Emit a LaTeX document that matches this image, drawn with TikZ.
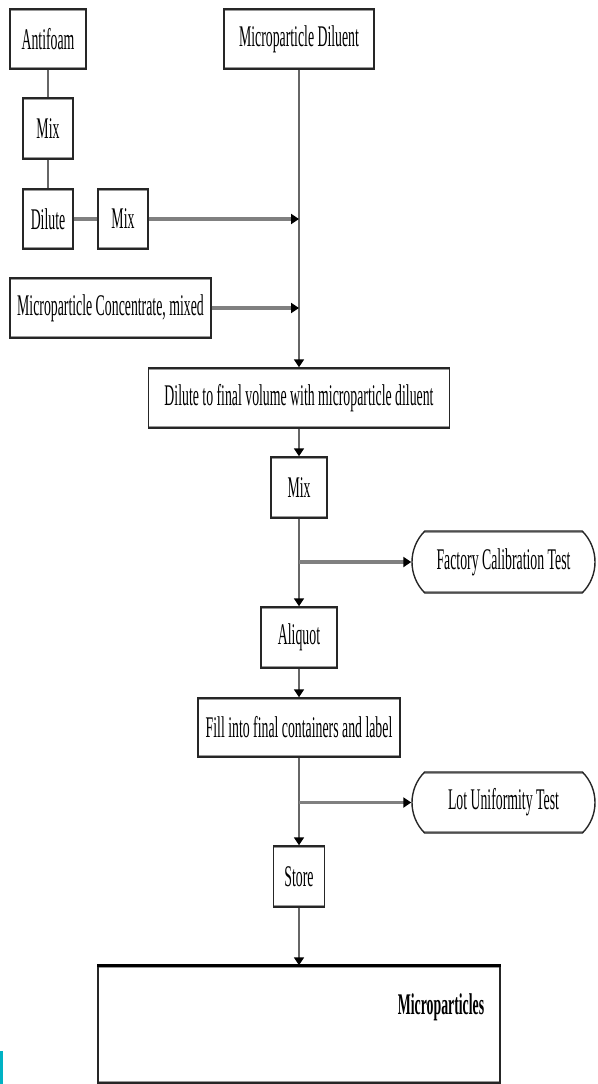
\documentclass[tikz,border=0pt]{standalone}
\usepackage{fontspec}
\setmainfont{Liberation Serif}[FakeStretch=0.46]
\usetikzlibrary{arrows.meta,shapes.misc}
\definecolor{barcyan}{RGB}{0,178,196}
\begin{document}
\begin{tikzpicture}[x=1pt,y=-1pt,
  every node/.style={font=\fontsize{30}{34}\selectfont},
  band/.style={path picture={\draw[black!40,line width=4pt]
      (path picture bounding box.north west) -- (path picture bounding box.north east)
      (path picture bounding box.south west) -- (path picture bounding box.south east);}},
  stepbox/.style={draw=black!85, line width=1.4pt, fill=white, inner sep=0pt, band},
  term/.style={rounded rectangle, rounded rectangle arc length=90, draw=black!85,
      line width=1.4pt, fill=white, inner sep=0pt, band},
  tip/.style={-{Triangle[length=8pt,width=10pt,color=black]}},
  trunk/.style={draw=black!60, line width=1.6pt},
  feed/.style={draw=black!50, line width=3.5pt},
]
\useasboundingbox (0,0) rectangle (597,1084);

% input boxes
\node[stepbox, minimum width=76pt, minimum height=60pt] (antifoam) at (48,39) {Antifoam};
\node[stepbox, minimum width=150pt, minimum height=60pt] (diluent) at (299,39) {Microparticle Diluent};
\node[stepbox, minimum width=50pt, minimum height=61pt] (mixA) at (48,128.5) {Mix};
\node[stepbox, minimum width=50pt, minimum height=60pt] (dilA) at (48,219) {Dilute};
\node[stepbox, minimum width=50pt, minimum height=60pt] (mixB) at (123,219) {Mix};
\node[stepbox, minimum width=201pt, minimum height=60pt] (conc) at (110.5,308) {Microparticle Concentrate, mixed};

% main process chain
\node[stepbox, minimum width=301pt, minimum height=60pt] (final) at (299,398) {Dilute to final volume with microparticle diluent};
\node[stepbox, minimum width=56pt, minimum height=61pt] (mixC) at (299,487.5) {Mix};
\node[term, minimum width=183pt, minimum height=62pt] (fct) at (503.5,562) {Factory Calibration Test};
\node[stepbox, minimum width=76pt, minimum height=61pt] (aliquot) at (299,637.5) {Aliquot};
\node[stepbox, minimum width=202pt, minimum height=59pt] (fill) at (299,727.5) {Fill into final containers and label};
\node[term, minimum width=183pt, minimum height=61pt] (lut) at (503.5,802.5) {Lot Uniformity Test};
\node[stepbox, minimum width=51pt, minimum height=61pt] (store) at (299,876.5) {Store};

% product box
\node[stepbox, minimum width=402pt, minimum height=117pt] (bigbox) at (299,1024.5) {};
\draw[black, line width=3pt] (bigbox.north west) -- (bigbox.north east);
\node[font=\fontsize{30}{34}\selectfont\bfseries] (mp) at (441,1007) {Microparticles};

% antifoam preparation
\draw[trunk] (antifoam.south) -- (mixA.north);
\draw[trunk] (mixA.south) -- (dilA.north);
\draw[feed] (dilA.east) -- (mixB.west);

% junctions on the diluent line
\coordinate (j1) at (diluent.south |- mixB.east);
\coordinate (j2) at (diluent.south |- conc.east);
\coordinate (j3) at (mixC.south |- fct.west);
\coordinate (j4) at (fill.south |- lut.west);

\draw[trunk, tip] (diluent.south) -- (final.north);
\draw[feed, tip] (mixB.east) -- (j1);
\draw[feed, tip] (conc.east) -- (j2);
\draw[trunk, tip] (final.south) -- (mixC.north);
\draw[trunk, tip] (mixC.south) -- (aliquot.north);
\draw[feed, tip] (j3) -- (fct.west);
\draw[trunk, tip] (aliquot.south) -- (fill.north);
\draw[trunk, tip] (fill.south) -- (store.north);
\draw[feed, tip] (j4) -- (lut.west);
\draw[trunk, tip] (store.south) -- (bigbox.north);

% edge mark
\fill[barcyan] (0,1051) rectangle (2.5,1084);
\end{tikzpicture}
\end{document}
